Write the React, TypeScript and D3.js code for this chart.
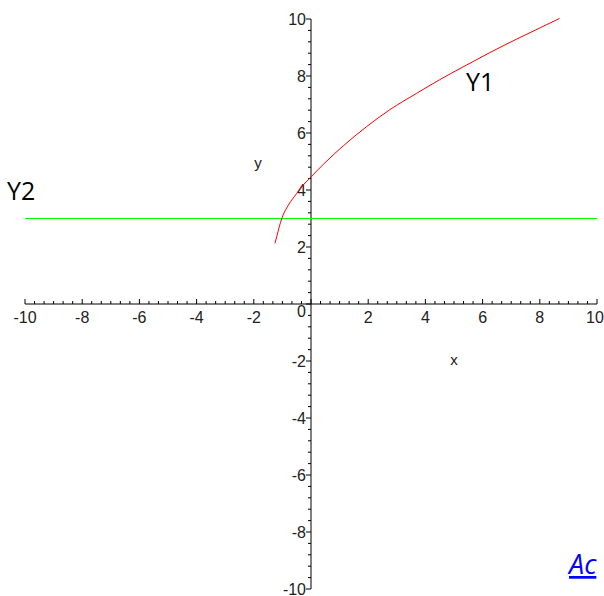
import React from "react";
import * as d3 from "d3";

const curveX = [-1.26, -1.2, -1.02, -0.79, -0.5, -0.27, 0.0, 0.43, 1.13, 1.94, 2.76, 3.69, 4.5, 5.43, 6.25, 7.18, 7.99, 8.69];
const curveY = [2.13, 2.36, 3.01, 3.47, 3.88, 4.18, 4.46, 4.9, 5.55, 6.22, 6.82, 7.39, 7.87, 8.38, 8.82, 9.29, 9.68, 10.02];
const lineY2 = 3;
const xDomain: [number, number] = [-10, 10];
const yDomain: [number, number] = [-10, 10];
const xTickLabels = [-10, -8, -6, -4, -2, 2, 4, 6, 8, 10];
const yTickLabels = [-10, -8, -6, -4, -2, 0, 2, 4, 6, 8, 10];

export default function App() {
  const W = 604, H = 596;
  const x = d3.scaleLinear().domain(xDomain).range([25, 597]);
  const y = d3.scaleLinear().domain(yDomain).range([589, 19]);
  const x0 = x(0), y0 = y(0);

  const xMinor = d3.range(-30, 31).map((i) => i / 3);
  const yMinor = d3.range(-25, 26).map((i) => i * 0.4);

  const pts = curveX.map((v, i) => [v, curveY[i]] as [number, number]);
  const line = d3
    .line<[number, number]>()
    .x((d) => x(d[0]))
    .y((d) => y(d[1]))
    .curve(d3.curveMonotoneX);

  const tickFont = "'Liberation Sans Narrow', 'Liberation Sans', Arial, sans-serif";
  const bigFont = "'Open Sans', 'DejaVu Sans', sans-serif";

  return (
    <svg width={W} height={H} style={{ position: "absolute", left: 0, top: 0, background: "#fff" }}>
      <line x1={x(-10)} x2={x(10)} y1={y0} y2={y0} stroke="#000" strokeWidth={1} />
      <line x1={x0} x2={x0} y1={y(10)} y2={y(-10)} stroke="#000" strokeWidth={1} />
      {xMinor.map((v, i) => {
        const major = Math.abs(v - Math.round(v)) < 1e-6 && Math.round(v) % 2 === 0;
        return (
          <line key={"xm" + i} x1={x(v)} x2={x(v)} y1={y0} y2={y0 - (major ? 5 : 3)} stroke="#000" strokeWidth={1} />
        );
      })}
      {yMinor.map((v, i) => {
        const major = Math.abs(v - Math.round(v)) < 1e-6 && Math.round(v) % 2 === 0;
        return (
          <line key={"ym" + i} x1={x0} x2={x0 - (major ? 5 : 3)} y1={y(v)} y2={y(v)} stroke="#000" strokeWidth={1} />
        );
      })}
      {xTickLabels.map((v) => (
        <text
          key={"xl" + v}
          x={x(v) - (v === 10 ? 2 : 0)}
          y={323}
          textAnchor="middle"
          fontFamily={tickFont}
          fontSize={16}
          fill="#222"
        >
          {v}
        </text>
      ))}
      {yTickLabels.map((v) => (
        <text
          key={"yl" + v}
          x={x0 - 5}
          y={y(v) + (v === 0 ? 7 : 0)}
          dy="0.36em"
          textAnchor="end"
          fontFamily={tickFont}
          fontSize={16}
          fill="#222"
        >
          {v}
        </text>
      ))}
      <text x={454} y={365} textAnchor="middle" fontFamily={tickFont} fontSize={15} fill="#222">x</text>
      <text x={258} y={168} textAnchor="middle" fontFamily={tickFont} fontSize={15} fill="#222">y</text>

      <line x1={x(-10)} x2={x(10)} y1={y(lineY2)} y2={y(lineY2)} stroke="#00ff00" strokeWidth={1} />
      <path d={line(pts) || ""} fill="none" stroke="#ff0000" strokeWidth={1} />

      <text x={466} y={91} fontFamily={bigFont} fontSize={25} fill="#000">Y1</text>
      <text x={7} y={200} fontFamily={bigFont} fontSize={25} fill="#000">Y2</text>

      <text
        x={569}
        y={574}
        fontFamily={bigFont}
        fontSize={27}
        fontStyle="italic"
        fill="#0000ff"
        textDecoration="underline"
      >
        Ac
      </text>
    </svg>
  );
}
